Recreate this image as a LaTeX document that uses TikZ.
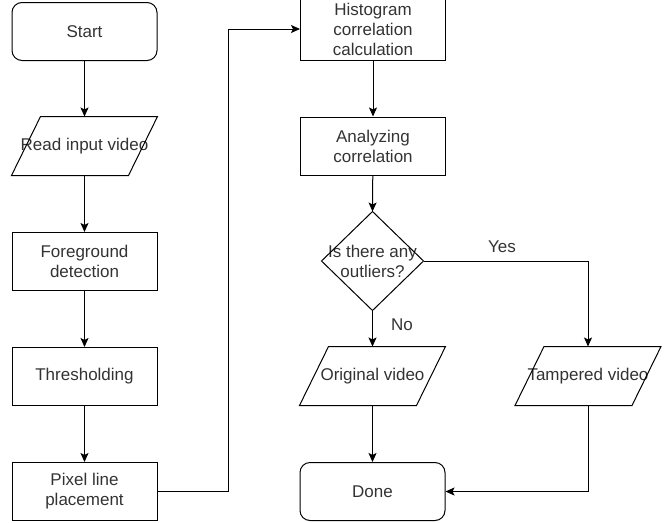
\documentclass[tikz,border=0pt]{standalone}
\usepackage{fontspec}
\setmainfont{Liberation Sans}
\usepackage{tikz}
\usetikzlibrary{arrows.meta,positioning,calc}

\definecolor{txtgray}{HTML}{333333}
\tikzset{
  box/.style={draw, line width=1pt, minimum width=145pt, minimum height=58pt,
    inner sep=0pt, align=center, text=txtgray,
    font=\fontsize{17}{20}\selectfont},
  term/.style={box, rounded corners=10pt},
  io/.style={box, draw=none},
  cond/.style={box, draw=none, minimum width=101pt, minimum height=98pt},
  arr/.style={line width=1pt, -{Stealth[length=9pt,width=8pt,inset=2pt]}},
  lbl/.style={text=txtgray, font=\fontsize{17}{20}\selectfont}
}

\begin{document}
\begin{tikzpicture}[x=1pt,y=-1pt]
\useasboundingbox (0,0) rectangle (666,522);

% Left column
\node[term] (start) at (84.5,31.5) {Start};
\node[io] (read) at (84.5,146) {Read input video};
\node[box] (fg) at (84.5,261.5) {Foreground\\detection};
\node[box] (thr) at (84.5,376.5) {Thresholding};
\node[box] (pix) at (84.5,491.5) {Pixel line\\placement};

% Right column
\node[box, minimum height=62pt] (hist) at (373,29) {Histogram\\correlation\\calculation};
\node[box] (ana) at (373,146) {Analyzing\\correlation};
\node[cond] (dec) at (372.5,261) {Is there any\\outliers?};
\node[io] (orig) at (372.5,376) {Original video};
\node[io] (tamp) at (588,376) {Tampered video};
\node[term] (done) at (372.5,491.5) {Done};

% Parallelograms and diamond outlines
\foreach \n in {read,orig,tamp}
  \draw[line width=1pt] ($(\n.north west)+(29pt,0)$) -- (\n.north east)
    -- ($(\n.south east)-(29pt,0)$) -- (\n.south west) -- cycle;
\draw[line width=1pt] (dec.north) -- (dec.east) -- (dec.south) -- (dec.west) -- cycle;

% Connectors
\draw[arr] (start) -- (read);
\draw[arr] (read) -- (fg);
\draw[arr] (fg) -- (thr);
\draw[arr] (thr) -- (pix);
\coordinate (bend) at (228,491.5);
\draw[arr] (pix.east) -- (bend) |- (hist.west);
\draw[arr] (hist) -- (ana);
\draw[arr] (ana) -- (dec.north);
\draw[arr] (dec.south) -- (orig.north);
\draw[arr] (dec.east) -| (tamp.north);
\draw[arr] (orig) -- (done);
\draw[arr] (tamp.south) |- (done.east);

% Branch labels
\node[lbl] (yes) at (502,247) {Yes};
\node[lbl] (no) at (402,325) {No};
\end{tikzpicture}
\end{document}
